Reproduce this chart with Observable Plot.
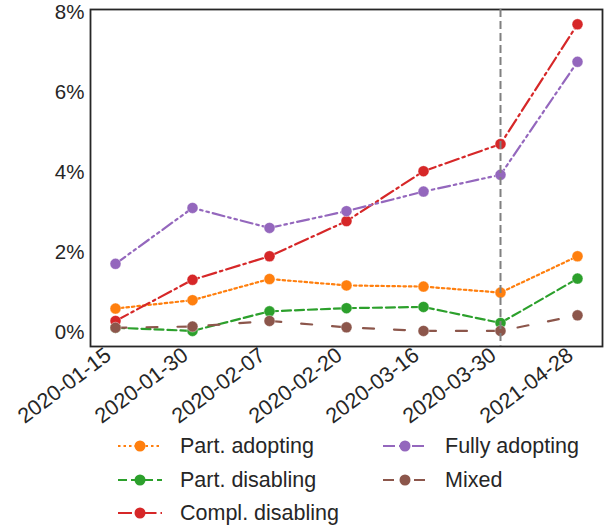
<!DOCTYPE html>
<html>
<head>
<meta charset="utf-8">
<script src="https://cdn.jsdelivr.net/npm/d3@7"></script>
<script src="https://cdn.jsdelivr.net/npm/@observablehq/plot@0.6"></script>
<style>
  html, body { margin: 0; padding: 0; background: #fff; }
  body { width: 609px; height: 531px; overflow: hidden; font-family: "Liberation Sans", Arial, sans-serif; }
  #wrap { position: relative; width: 609px; height: 531px; }
  .leg { position: absolute; display: flex; align-items: center; font-size: 21.5px; color: #262626; white-space: nowrap; }
  .leg svg { margin-right: 18px; }
</style>
</head>
<body>
<div id="wrap"></div>
<script>
const dates = ["2020-01-15","2020-01-30","2020-02-07","2020-02-20","2020-03-16","2020-03-30","2021-04-28"];
const seriesNames = ["Part. adopting","Part. disabling","Compl. disabling","Fully adopting","Mixed"];
const partAdopting   = [0.59, 0.80, 1.33, 1.17, 1.14, 0.99, 1.90];
const partDisabling  = [0.11, 0.03, 0.52, 0.60, 0.63, 0.23, 1.34];
const complDisabling = [0.28, 1.31, 1.90, 2.78, 4.03, 4.71, 7.71];
const fullyAdopting  = [1.71, 3.11, 2.61, 3.03, 3.52, 3.94, 6.77];
const mixed          = [0.11, 0.14, 0.28, 0.12, 0.03, 0.03, 0.42];
const yTicks = [0, 2, 4, 6, 8];
const markerDate = "2020-03-30";

const colors = ["#ff7f0e", "#2ca02c", "#d62728", "#9467bd", "#8c564b"];
const dashes = ["2.5,3", "9,4", "14,4,2.5,4", "12,4,2.5,4,2.5,4", "11,20"];
const valuesList = [partAdopting, partDisabling, complDisabling, fullyAdopting, mixed];

const marks = [
  Plot.frame({stroke: "#262626", strokeWidth: 1.8}),
  Plot.axisY({ticks: yTicks, tickFormat: d => d + "%", label: null, tickSize: 0, tickPadding: 6, fontSize: 20.5}),
  Plot.axisX({label: null, tickSize: 0, tickPadding: 6, tickRotate: -37, fontSize: 21.5, dx: -7, dy: 0})
];
valuesList.forEach((vals, i) => {
  const data = dates.map((d, j) => ({date: d, value: vals[j]}));
  marks.push(Plot.line(data, {x: "date", y: "value", stroke: colors[i], strokeWidth: 2.2, strokeDasharray: dashes[i]}));
  marks.push(Plot.dot(data, {x: "date", y: "value", fill: colors[i], r: 5.5, stroke: "white", strokeWidth: 0.4}));
});
marks.push(Plot.ruleX([markerDate], {stroke: "#808080", strokeWidth: 2, strokeDasharray: "8,4"}));

const chart = Plot.plot({
  width: 609,
  height: 432,
  marginLeft: 90,
  marginRight: 7,
  marginTop: 9,
  marginBottom: 86,
  style: {fontFamily: "'Liberation Sans', Arial, sans-serif", fontSize: "20.5px", color: "#262626", background: "white"},
  x: {type: "point", domain: dates, padding: 0.3},
  y: {domain: [-0.36, 8.08]},
  marks
});
const wrap = document.getElementById("wrap");
wrap.appendChild(chart);

const legendPos = [
  {left: 118, top: 446}, {left: 118, top: 480}, {left: 118, top: 513},
  {left: 383, top: 446}, {left: 383, top: 480}
];
seriesNames.forEach((name, i) => {
  const div = document.createElement("div");
  div.className = "leg";
  div.style.left = legendPos[i].left + "px";
  div.style.top = (legendPos[i].top - 13) + "px";
  div.style.height = "26px";
  div.innerHTML = `<svg width="44" height="14"><line x1="0" y1="7" x2="44" y2="7" stroke="${colors[i]}" stroke-width="2.2" stroke-dasharray="${dashes[i]}"/><circle cx="22" cy="7" r="5.5" fill="${colors[i]}"/></svg><span>${name}</span>`;
  wrap.appendChild(div);
});
</script>
</body>
</html>
